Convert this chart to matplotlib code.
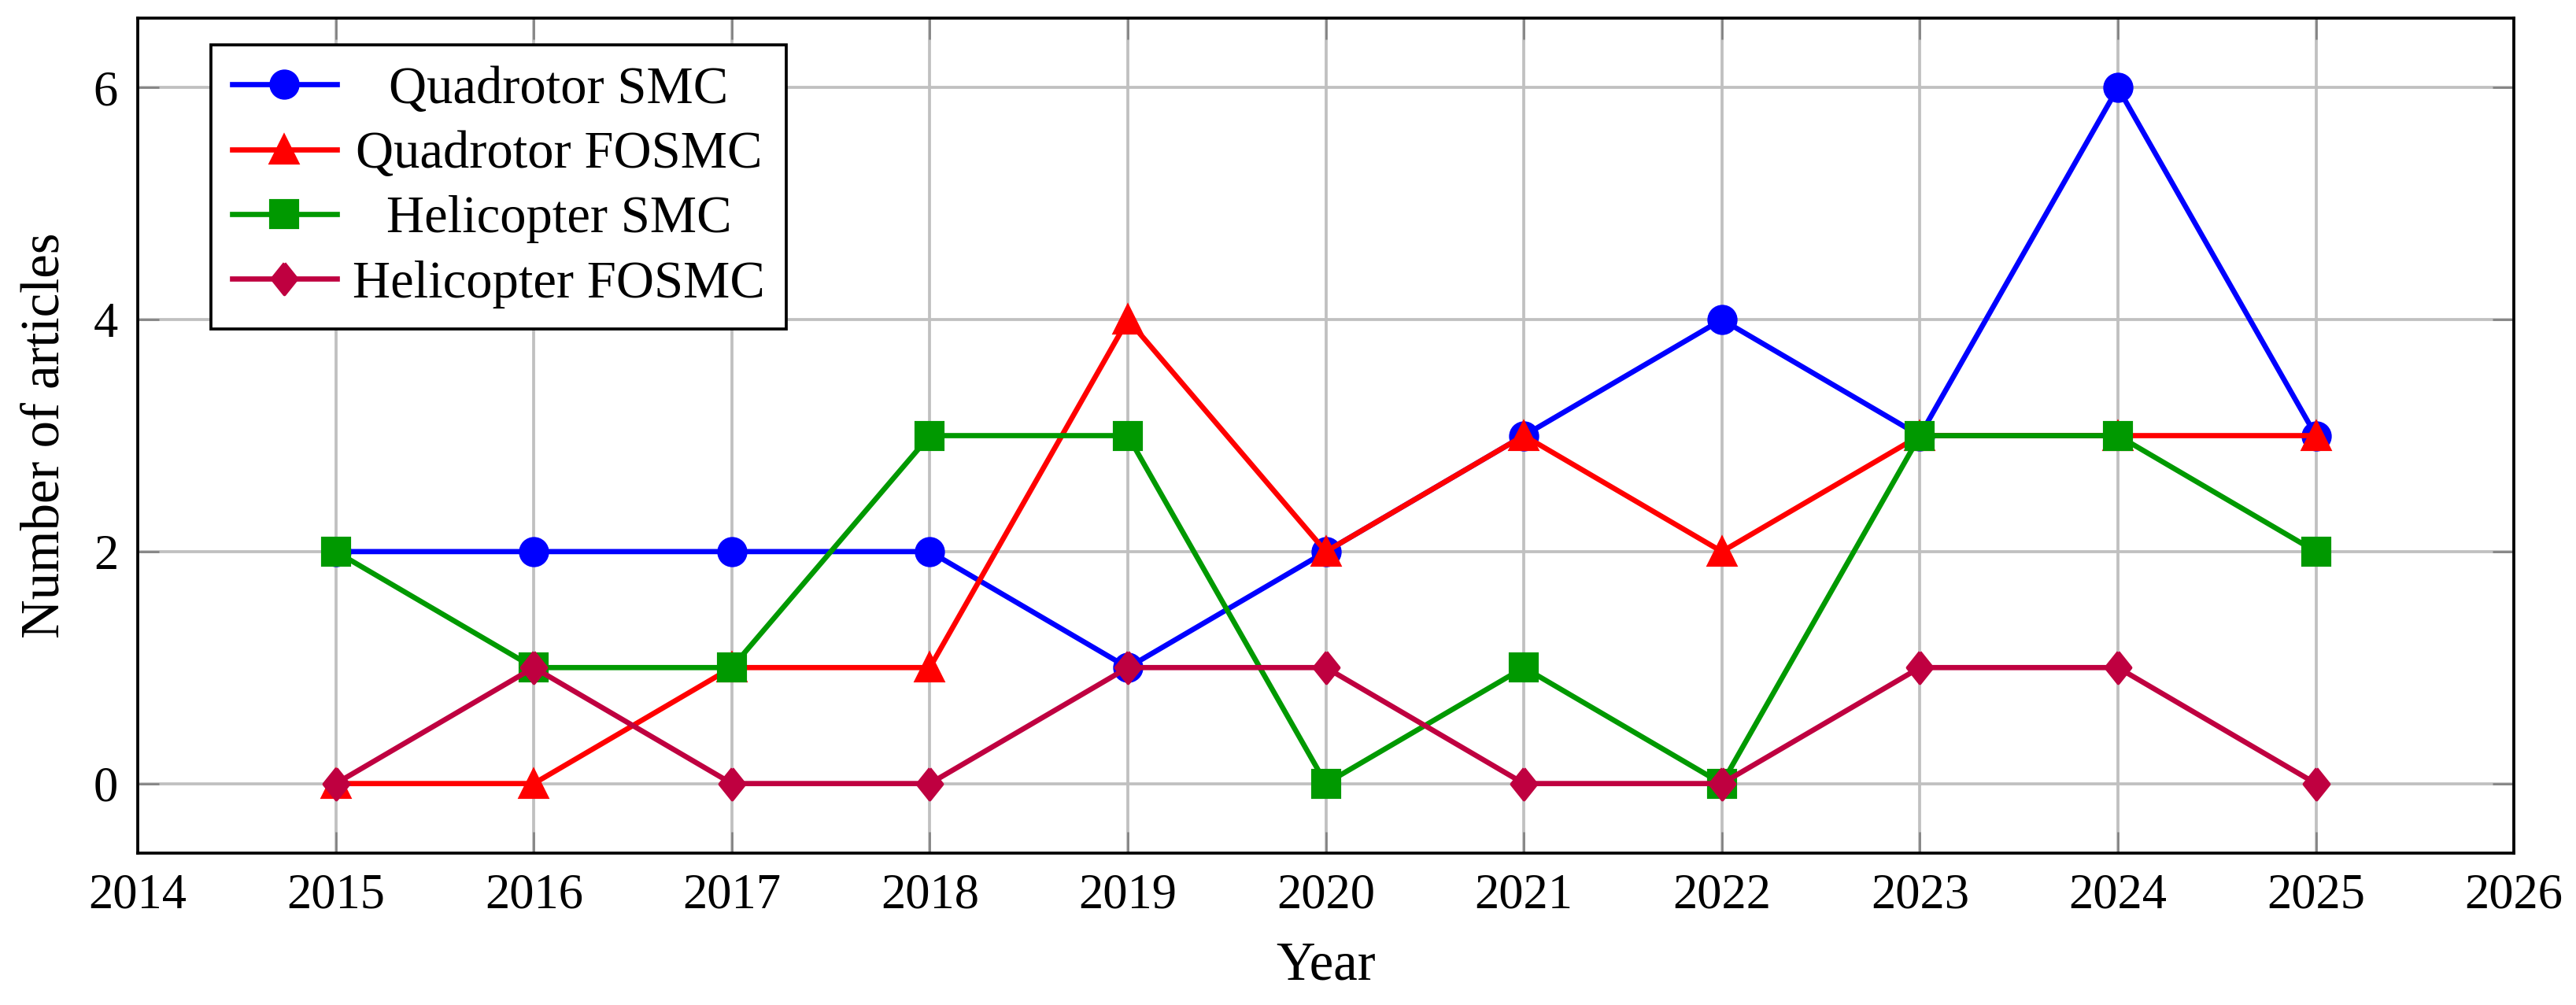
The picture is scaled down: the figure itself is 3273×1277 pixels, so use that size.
import matplotlib
matplotlib.use('Agg')
import matplotlib.pyplot as plt
import matplotlib.transforms as mtransforms

years = [2015, 2016, 2017, 2018, 2019, 2020, 2021, 2022, 2023, 2024, 2025]
quad_smc = [2, 2, 2, 2, 1, 2, 3, 4, 3, 6, 3]
quad_fosmc = [0, 0, 1, 1, 4, 2, 3, 2, 3, 3, 3]
heli_smc = [2, 1, 1, 3, 3, 0, 1, 0, 3, 3, 2]
heli_fosmc = [0, 1, 0, 0, 1, 1, 0, 0, 1, 1, 0]

x_ticks = list(range(2014, 2027))
y_ticks = [0, 2, 4, 6]

plt.rcParams['font.family'] = ['Liberation Serif', 'DejaVu Serif']
plt.rcParams['font.size'] = 15

DPI = 300
fig = plt.figure(figsize=(3273 / DPI, 1277 / DPI), dpi=DPI)
ax = fig.add_axes([0.0535, 0.1511, 0.9224, 0.8309])

# pgfplots-like diamond (taller than wide)
diamond = [(0, 1), (0.8, 0), (0, -1), (-0.8, 0), (0, 1)]

series = [
    (quad_smc, '#0000ff', 'o', 8.2, 'Quadrotor SMC'),
    (quad_fosmc, '#ff0000', '^', 8.0, 'Quadrotor FOSMC'),
    (heli_smc, '#009900', 's', 8.0, 'Helicopter SMC'),
    (heli_fosmc, '#bf0040', diamond, 9.5, 'Helicopter FOSMC'),
]
for vals, col, mk, ms, lab in series:
    ax.plot(years, vals, color=col, marker=mk, markersize=ms, linewidth=1.6,
            label=lab, zorder=3)

ax.set_xlim(2014, 2026)
ax.set_ylim(-0.6, 6.6)
ax.set_xticks(x_ticks)
ax.set_yticks(y_ticks)
ax.grid(True, color='#c0c0c0', linewidth=0.9)
ax.set_axisbelow(True)
ax.tick_params(direction='in', length=6.5, width=0.6, color='#808080',
               top=True, right=True, pad=6)
for sp in ax.spines.values():
    sp.set_linewidth(0.9)
    sp.set_color('black')

ax.set_xlabel('Year', fontsize=16.5, labelpad=7)
ax.set_ylabel('Number of articles', fontsize=16.5, labelpad=7)

leg = ax.legend(loc='upper left', bbox_to_anchor=(0.0308, 0.968),
                borderaxespad=0, fancybox=False, framealpha=1,
                edgecolor='black', handlelength=2.0, labelspacing=0.32,
                borderpad=0.4, handletextpad=0.3, fontsize=16)
leg.get_frame().set_linewidth(0.9)

# centre the legend entries like pgfplots does
fig.canvas.draw()
renderer = fig.canvas.get_renderer()
widths = [t.get_window_extent(renderer).width for t in leg.get_texts()]
wmax = max(widths)
for t, w in zip(leg.get_texts(), widths):
    shift = mtransforms.Affine2D().translate((wmax - w) / 2, 0)
    t.set_transform(t.get_transform() + shift)

fig.savefig('out.png', dpi=DPI)
